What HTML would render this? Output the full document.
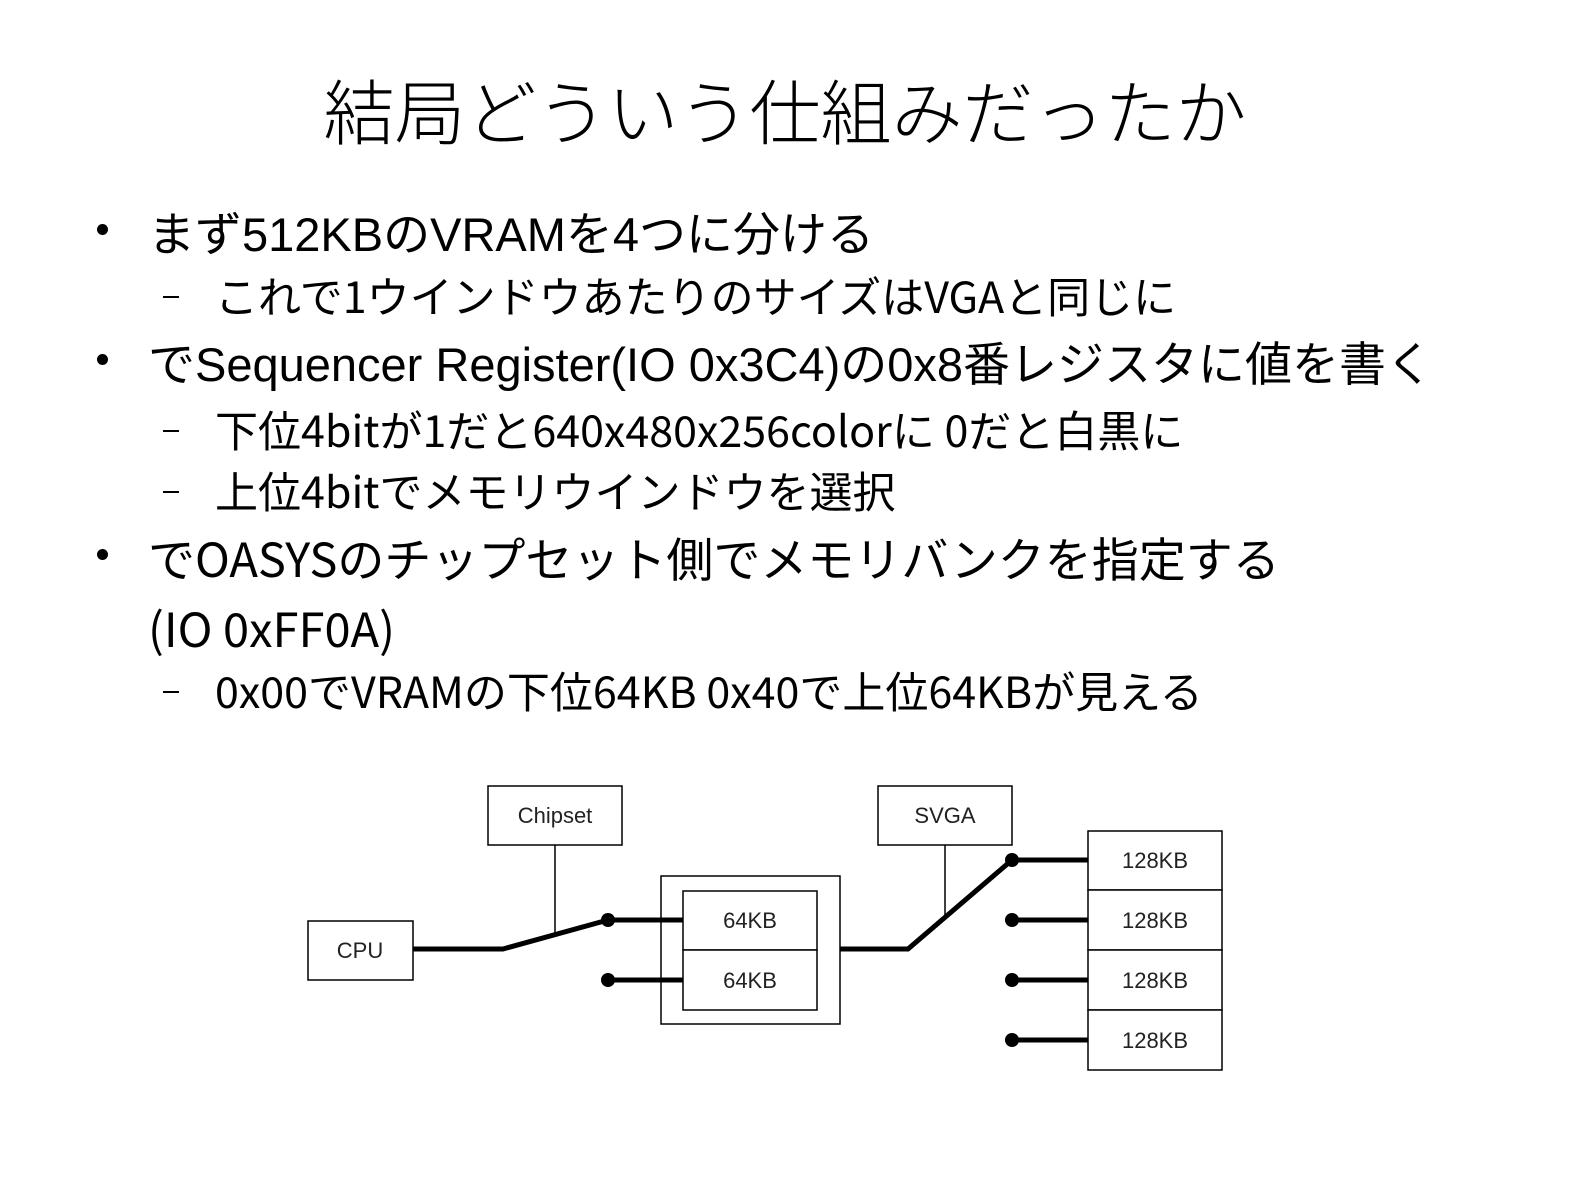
<!DOCTYPE html>
<html><head><meta charset="utf-8"><style>
body{margin:0;width:1587px;height:1191px;background:#fff;position:relative;overflow:hidden;font-family:"Liberation Sans","Noto Sans CJK JP",sans-serif;color:#000}
.t{position:absolute;white-space:nowrap;line-height:1}
.title{left:0;width:1570px;text-align:center;top:74px;font-size:71px;font-family:"Noto Sans CJK JP",sans-serif;font-weight:300}
.b{font-size:47px;left:148px}
.s{font-size:43px;left:215px;font-family:"Noto Sans CJK JP",sans-serif}
.dot{position:absolute;left:97px;width:11px;height:11px;border-radius:50%;background:#000}
.dash{position:absolute;left:163px;width:16px;height:2px;background:#000}
</style></head><body>
<div class="t title">結局どういう仕組みだったか</div>
<div class="dot" style="top:224px"></div>
<div class="t b" style="top:211px">まず512KBのVRAMを4つに分ける</div>
<div class="dash" style="top:296px"></div>
<div class="t s" style="top:274px">これで1ウインドウあたりのサイズはVGAと同じに</div>
<div class="dot" style="top:354px"></div>
<div class="t b" style="top:341px">でSequencer Register(IO 0x3C4)の0x8番レジスタに値を書く</div>
<div class="dash" style="top:430px"></div>
<div class="t s" style="top:408px">下位4bitが1だと640x480x256colorに 0だと白黒に</div>
<div class="dash" style="top:491px"></div>
<div class="t s" style="top:469px">上位4bitでメモリウインドウを選択</div>
<div class="dot" style="top:549px"></div>
<div class="t s" style="left:148px;top:533px;font-size:47px">でOASYSのチップセット側でメモリバンクを指定する</div>
<div class="t s" style="left:148px;top:603px;font-size:47px">(IO 0xFF0A)</div>
<div class="dash" style="top:691px"></div>
<div class="t s" style="top:669px">0x00でVRAMの下位64KB 0x40で上位64KBが見える</div>
<svg style="position:absolute;left:0;top:0" width="1587" height="1191">
<g fill="#fff" stroke="#000" stroke-width="1.5">
<rect x="488" y="786" width="134" height="59"/>
<rect x="878" y="786" width="134" height="59"/>
<rect x="308" y="921" width="105" height="59"/>
<rect x="661" y="876" width="179" height="148"/>
<rect x="683" y="891" width="134" height="59"/>
<rect x="683" y="950" width="134" height="60"/>
<rect x="1088" y="831" width="134" height="59"/>
<rect x="1088" y="890" width="134" height="60"/>
<rect x="1088" y="950" width="134" height="60"/>
<rect x="1088" y="1010" width="134" height="60"/>
</g>
<g stroke="#000" stroke-width="1.5"><line x1="555" y1="845" x2="555" y2="933"/><line x1="945" y1="845" x2="945" y2="915"/></g>
<g stroke="#000" stroke-width="5" fill="none">
<polyline points="413,949 503,949 608,920 683,920"/>
<line x1="608" y1="980" x2="683" y2="980"/>
<polyline points="840,949 908,949 1012,860 1088,860"/>
<line x1="1012" y1="920" x2="1088" y2="920"/>
<line x1="1012" y1="980" x2="1088" y2="980"/>
<line x1="1012" y1="1040" x2="1088" y2="1040"/>
</g>
<g fill="#000"><circle cx="608" cy="920" r="7"/><circle cx="608" cy="980" r="7"/><circle cx="1012" cy="860" r="7"/><circle cx="1012" cy="920" r="7"/><circle cx="1012" cy="980" r="7"/><circle cx="1012" cy="1040" r="7"/></g>
<g font-family="Liberation Sans,sans-serif" font-size="22" text-anchor="middle" fill="#222">
<text x="555" y="823">Chipset</text><text x="945" y="823">SVGA</text><text x="360" y="958">CPU</text>
<text x="750" y="928">64KB</text><text x="750" y="988">64KB</text>
<text x="1155" y="868">128KB</text><text x="1155" y="928">128KB</text><text x="1155" y="988">128KB</text><text x="1155" y="1048">128KB</text>
</g>
</svg>
</body></html>
